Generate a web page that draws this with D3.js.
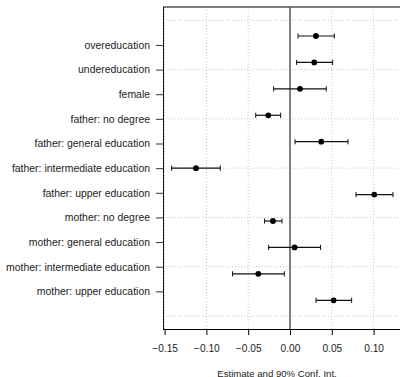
<!DOCTYPE html>
<html>
<head>
<meta charset="utf-8">
<script src="https://cdn.jsdelivr.net/npm/d3@7"></script>
<style>
  html, body { margin: 0; padding: 0; background: #ffffff; }
  svg { display: block; font-family: "Liberation Sans", Arial, sans-serif; }
</style>
</head>
<body>
<svg id="chart" width="400" height="377"></svg>
<script>
// Coefficient labels, top to bottom
const categories = [
  "overeducation",
  "undereducation",
  "female",
  "father: no degree",
  "father: general education",
  "father: intermediate education",
  "father: upper education",
  "mother: no degree",
  "mother: general education",
  "mother: intermediate education",
  "mother: upper education"
];
// Point estimates
const estimates = [0.031, 0.029, 0.012, -0.026, 0.0374, -0.1124, 0.1008, -0.0204, 0.0055, -0.0379, 0.0522];
// 90% confidence bounds
const lower = [0.0096, 0.0079, -0.0196, -0.041, 0.006, -0.1416, 0.079, -0.0304, -0.0256, -0.0687, 0.0311];
const upper = [0.053, 0.051, 0.0434, -0.0112, 0.0694, -0.0834, 0.1232, -0.0096, 0.0366, -0.0068, 0.0737];
// Axis ticks
const xTicks = [-0.15, -0.10, -0.05, 0.00, 0.05, 0.10];
const xTitle = "Estimate and 90% Conf. Int.";

const svg = d3.select("#chart");
const plot = { left: 163, right: 402, top: 7, bottom: 329 };

const x = d3.scaleLinear().domain([-0.15, 0.10]).range([164.6, 373.6]);
// Label/grid positions on an index scale 0..12
const yIdx = d3.scaleLinear().domain([0, 12]).range([20.3, 316]);
// Marker rows
const yPt = d3.scalePoint().domain(categories).range([36, 300.3]);

const rows = categories.map((c, i) => ({ label: c, est: estimates[i], lo: lower[i], hi: upper[i] }));

// Clip for the panel
svg.append("defs").append("clipPath").attr("id", "panel")
  .append("rect")
  .attr("x", plot.left).attr("y", plot.top)
  .attr("width", plot.right - plot.left).attr("height", plot.bottom - plot.top);

const panel = svg.append("g").attr("clip-path", "url(#panel)");

// Dotted grid
panel.selectAll("line.vgrid").data(xTicks.filter(d => d !== 0)).join("line")
  .attr("class", "vgrid")
  .attr("x1", d => x(d)).attr("x2", d => x(d))
  .attr("y1", plot.top).attr("y2", plot.bottom)
  .attr("stroke", "#c8c8c8").attr("stroke-width", 1)
  .attr("stroke-dasharray", "1,2");

panel.selectAll("line.hgrid").data(d3.range(0, 13, 2)).join("line")
  .attr("class", "hgrid")
  .attr("x1", plot.left).attr("x2", plot.right)
  .attr("y1", d => yIdx(d)).attr("y2", d => yIdx(d))
  .attr("stroke", "#c8c8c8").attr("stroke-width", 1)
  .attr("stroke-dasharray", "1,2");

// Reference line at zero
panel.append("line")
  .attr("x1", x(0)).attr("x2", x(0))
  .attr("y1", plot.top).attr("y2", plot.bottom)
  .attr("stroke", "#555").attr("stroke-width", 1.5);

// Confidence intervals with end caps
const ci = panel.selectAll("g.ci").data(rows).join("g").attr("class", "ci");
ci.append("line")
  .attr("x1", d => x(d.lo)).attr("x2", d => x(d.hi))
  .attr("y1", d => yPt(d.label)).attr("y2", d => yPt(d.label))
  .attr("stroke", "#111").attr("stroke-width", 1.2);
ci.append("line")
  .attr("x1", d => x(d.lo)).attr("x2", d => x(d.lo))
  .attr("y1", d => yPt(d.label) - 2.6).attr("y2", d => yPt(d.label) + 2.6)
  .attr("stroke", "#111").attr("stroke-width", 1);
ci.append("line")
  .attr("x1", d => x(d.hi)).attr("x2", d => x(d.hi))
  .attr("y1", d => yPt(d.label) - 2.6).attr("y2", d => yPt(d.label) + 2.6)
  .attr("stroke", "#111").attr("stroke-width", 1);
ci.append("circle")
  .attr("cx", d => x(d.est)).attr("cy", d => yPt(d.label))
  .attr("r", 2.9).attr("fill", "#000");

// Frame
svg.append("line")
  .attr("x1", plot.left).attr("x2", 400)
  .attr("y1", plot.top).attr("y2", plot.top)
  .attr("stroke", "#555").attr("stroke-width", 1.6);

// Bottom axis
const xAxis = svg.append("g").attr("transform", `translate(0,${plot.bottom})`)
  .call(d3.axisBottom(x).tickValues(xTicks).tickFormat(d3.format(".2f")).tickSize(6).tickSizeOuter(0).tickPadding(10));
xAxis.select(".domain").attr("d", `M${plot.left},0.5H400`).attr("stroke", "#000");
xAxis.selectAll(".tick line").attr("stroke", "#000");
xAxis.selectAll(".tick text")
  .attr("font-size", 10.2).attr("fill", "#222")
  .attr("font-family", "Liberation Sans, Arial, sans-serif")
  .text(d => d3.format(".2f")(d).replace("-", "\u2212"));

// Left axis with category labels
const yAxis = svg.append("g").attr("transform", `translate(${plot.left},0)`)
  .call(d3.axisLeft(d3.scalePoint().domain(categories).range([yIdx(1), yIdx(11)]))
    .tickSize(7).tickSizeOuter(0).tickPadding(6));
yAxis.select(".domain").attr("d", `M0.5,${plot.top}V${plot.bottom}`).attr("stroke", "#111");
yAxis.selectAll(".tick line").attr("stroke", "#333");
yAxis.selectAll(".tick text")
  .attr("font-size", 10.45).attr("fill", "#222")
  .attr("font-family", "Liberation Sans, Arial, sans-serif");

// Axis title
svg.append("text")
  .attr("x", 277).attr("y", 376.5)
  .attr("text-anchor", "middle")
  .attr("font-size", 9.6).attr("fill", "#222")
  .text(xTitle);
</script>
</body>
</html>
